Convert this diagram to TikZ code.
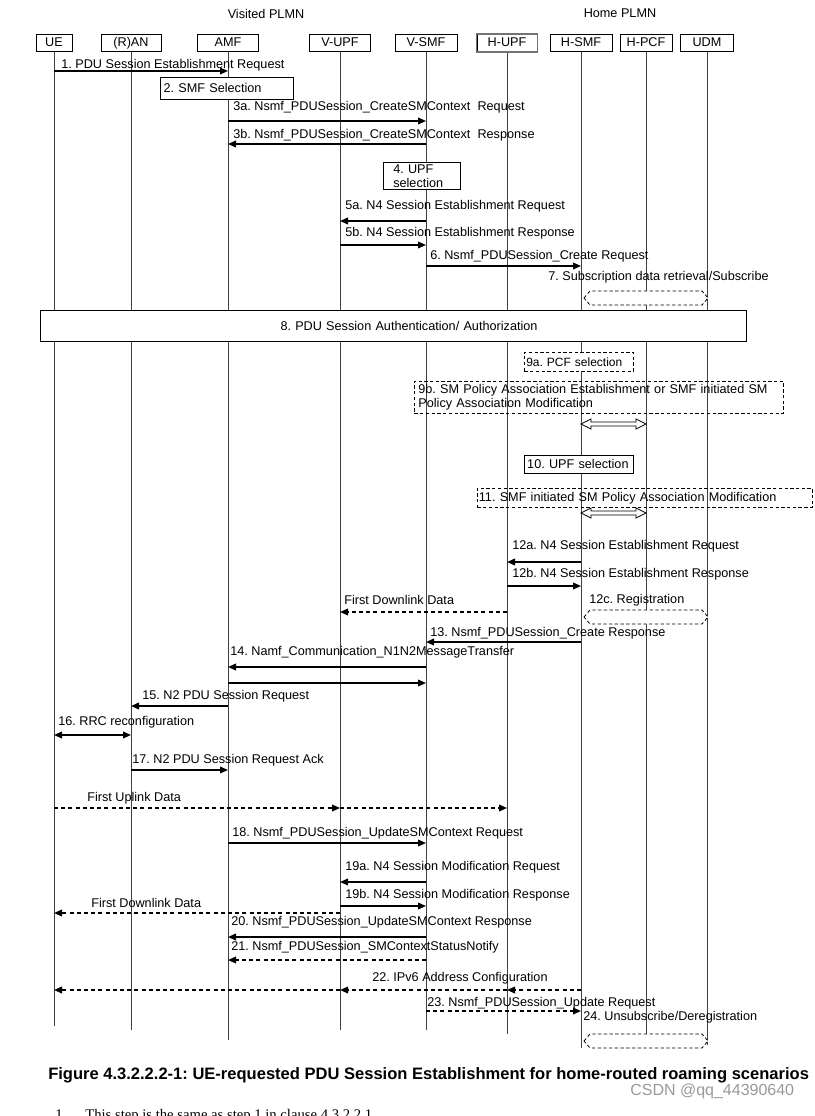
\documentclass[tikz,border=0pt]{standalone}
\usepackage{fontspec}
\setmainfont{Liberation Sans}
\newfontfamily\bodyserif{Liberation Serif}
\usetikzlibrary{arrows.meta}
\frenchspacing
\tikzset{
  nf/.style={draw, line width=0.6pt, fill=white, minimum height=12.75pt, inner sep=1pt,
    text height=7pt, text depth=2pt},
  life/.style={line width=0.55pt, black!75},
  msg/.style={line width=1.1pt, -{Triangle[length=6pt, width=5pt]}},
  dmsg/.style={msg, dash pattern=on 3pt off 2.4pt},
  dbl/.style={line width=1.1pt, {Triangle[length=6pt, width=5pt]}-{Triangle[length=6pt, width=5pt]}},
  act/.style={draw, line width=0.6pt, fill=white, align=left, inner xsep=2.4pt, inner ysep=1pt},
  dact/.style={act, dash pattern=on 2.5pt off 1.8pt},
  dhex/.style={draw, fill=white, line width=0.6pt, dash pattern=on 2.5pt off 1.8pt},
  hollow/.style={draw, fill=white, line width=0.6pt},
  lbl/.style={anchor=west, inner sep=0pt},
}
\newcommand{\hollowarrow}[1]{%
  \draw[hollow] (hsmf |- 0,#1) -- ++(10,-5) -- ++(0,3) -- ++(45,0) -- ++(0,-3) -- ++(10,5)
    -- ++(-10,5) -- ++(0,-3) -- ++(-45,0) -- ++(0,3) -- cycle;}
\newcommand{\dashhex}[1]{%
  \draw[dhex] (hsmf |- 0,#1) ++(3,7) -- ++(6,-7) -- ++(112,0) -- ++(6,7) -- ++(-6,7)
    -- ++(-112,0) -- cycle;}

\begin{document}
\begin{tikzpicture}[x=0.75pt, y=-0.75pt, font=\fontsize{9.5}{10.5}\selectfont]
\useasboundingbox (0,0) rectangle (814,1116);

% ── Network functions ───────────────────────────────────────
\node (vis) at (266,14) {Visited PLMN};
\node (home) at (620,13) {Home PLMN};
\foreach \n/\x/\w/\t in {ue/54/27/UE, ran/131/45/(R)AN, amf/228/45.75/AMF,
    vupf/340/45.75/V-UPF, vsmf/426/46.5/V-SMF, hupf/507/45/H-UPF,
    hsmf/581/46.5/H-SMF, hpcf/646/39/H-PCF, udm/707/39.75/UDM} {
  \node[nf, minimum width=\w pt] (\n) at (\x,43) {\t};
}
\foreach \n/\e in {ue/1026, ran/1030, amf/1040, vupf/1030, vsmf/1030,
    hupf/1034, hsmf/1048, hpcf/1047, udm/1045} {
  \draw[life] (\n) -- (\n |- 0,\e);
}
\draw[line width=1pt, black!55] (hupf.north west) rectangle (hupf.south east);

% ── Steps 1 -- 7 ────────────────────────────────────────────
\node[lbl] (t1) at (61,65) {1. PDU Session Establishment Request};
\draw[msg] (ue |- 0,71) -- (amf |- 0,71);
\node[act, anchor=north west, text width=95pt, minimum height=16.5pt] (s2) at (160,77) {2. SMF Selection};
\node[lbl] (t3a) at (233,107) {3a. Nsmf\_PDUSession\_CreateSMContext\ \ Request};
\draw[msg] (amf |- 0,121) -- (vsmf |- 0,121);
\node[lbl] (t3b) at (233,135) {3b. Nsmf\_PDUSession\_CreateSMContext\ \ Response};
\draw[msg] (vsmf |- 0,144) -- (amf |- 0,144);
\node[act, anchor=north west, text width=43pt, inner xsep=7.4pt, minimum height=20.25pt] (s4) at (383,162) {4. UPF\\selection};
\node[lbl] (t5a) at (345,206) {5a. N4 Session Establishment Request};
\draw[msg] (vsmf |- 0,221) -- (vupf |- 0,221);
\node[lbl] (t5b) at (345,233) {5b. N4 Session Establishment Response};
\draw[msg] (vupf |- 0,245) -- (vsmf |- 0,245);
\node[lbl] (t6) at (430,256) {6. Nsmf\_PDUSession\_Create Request};
\draw[msg] (vsmf |- 0,266) -- (hsmf |- 0,266);
\node[lbl] (t7) at (548,277) {7. Subscription data retrieval/Subscribe};
\dashhex{291}

% ── Steps 8 -- 11 ───────────────────────────────────────────
\node[act, align=center, text width=510pt, inner xsep=9.75pt, minimum height=23.25pt] (s8) at (393,325.5)
  {\hspace*{24pt}8. PDU Session Authentication/ Authorization};
\node[dact, anchor=north west, text width=79pt, inner xsep=1.4pt, minimum height=14.25pt,
  font=\fontsize{9}{10}\selectfont] (s9a) at (524,352) {9a. PCF selection};
\node[dact, fill=none, anchor=north west, text width=270.75pt, inner xsep=3pt, minimum height=24pt] (s9b) at (414,381)
  {9b. SM Policy Association Establishment or SMF initiated SM\\Policy Association Modification};
\hollowarrow{424}
\node[act, anchor=north west, text width=77.5pt, inner xsep=2.1pt, minimum height=13.5pt] (s10) at (524,455) {10. UPF selection};
\node[dact, fill=none, anchor=north west, text width=249pt, inner xsep=1.1pt, minimum height=14.25pt] (s11) at (477,488)
  {11. SMF initiated SM Policy Association Modification};
\hollowarrow{513}

% ── Steps 12 -- 17 ──────────────────────────────────────────
\node[lbl] (t12a) at (512,546) {12a. N4 Session Establishment Request};
\draw[msg] (hsmf |- 0,562) -- (hupf |- 0,562);
\node[lbl] (t12b) at (512,574) {12b. N4 Session Establishment Response};
\draw[msg] (hupf |- 0,586) -- (hsmf |- 0,586);
\node[lbl] (tdl1) at (344,600) {First Downlink Data};
\draw[dmsg] (hupf |- 0,612) -- (vupf |- 0,612);
\node[lbl] (t12c) at (589,600) {12c. Registration};
\dashhex{610}
\node[lbl] (t13) at (430,633) {13. Nsmf\_PDUSession\_Create Response};
\draw[msg] (hsmf |- 0,642) -- (vsmf |- 0,642);
\node[lbl] (t14) at (230,652) {14. Namf\_Communication\_N1N2MessageTransfer};
\draw[msg] (vsmf |- 0,667) -- (amf |- 0,667);
\draw[msg] (amf |- 0,683) -- (vsmf |- 0,683);
\node[lbl] (t15) at (142,696) {15. N2 PDU Session Request};
\draw[msg] (amf |- 0,706) -- (ran |- 0,706);
\node[lbl] (t16) at (58,722) {16. RRC reconfiguration};
\draw[dbl] (ue |- 0,735) -- (ran |- 0,735);
\node[lbl] (t17) at (132,760) {17. N2 PDU Session Request Ack};
\draw[msg] (ran |- 0,770) -- (amf |- 0,770);

% ── Steps 18 -- 24 ──────────────────────────────────────────
\node[lbl] (tul) at (87,798) {First Uplink Data};
\draw[dmsg] (ue |- 0,808) -- (vupf |- 0,808);
\draw[dmsg] (vupf |- 0,808) -- (hupf |- 0,808);
\node[lbl] (t18) at (232,833) {18. Nsmf\_PDUSession\_UpdateSMContext Request};
\draw[msg] (amf |- 0,843) -- (vsmf |- 0,843);
\node[lbl] (t19a) at (345,867) {19a. N4 Session Modification Request};
\draw[msg] (vsmf |- 0,882) -- (vupf |- 0,882);
\node[lbl] (t19b) at (345,895) {19b. N4 Session Modification Response};
\draw[msg] (vupf |- 0,906) -- (vsmf |- 0,906);
\node[lbl] (tdl2) at (91,903) {First Downlink Data};
\draw[dmsg] (vupf |- 0,913) -- (ue |- 0,913);
\node[lbl] (t20) at (231,922) {20. Nsmf\_PDUSession\_UpdateSMContext Response};
\draw[msg] (vsmf |- 0,937) -- (amf |- 0,937);
\node[lbl] (t21) at (231,947) {21. Nsmf\_PDUSession\_SMContextStatusNotify};
\draw[dmsg] (vsmf |- 0,960) -- (amf |- 0,960);
\node[lbl] (t22) at (372,978) {22. IPv6 Address Configuration};
\draw[dmsg] (hsmf |- 0,990) -- (hupf |- 0,990);
\draw[dmsg] (hupf |- 0,990) -- (vupf |- 0,990);
\draw[dmsg] (vupf |- 0,990) -- (ue |- 0,990);
\node[lbl] (t23) at (427,1003) {23. Nsmf\_PDUSession\_Update Request};
\draw[dmsg] (vsmf |- 0,1011) -- (hsmf |- 0,1011);
\node[lbl] (t24) at (583,1017) {24. Unsubscribe/Deregistration};
\dashhex{1034}

% ── Caption ─────────────────────────────────────────────────
\node[lbl, font=\fontsize{12.4}{14}\selectfont\bfseries] (cap) at (48,1075)
  {Figure 4.3.2.2.2-1: UE-requested PDU Session Establishment for home-routed roaming scenarios};
\node[lbl, font=\fontsize{12}{14}\selectfont, text=black!40] (wm) at (630,1091) {CSDN @qq\_44390640};
\node[anchor=base west, inner sep=0pt, font=\bodyserif\fontsize{11}{13}\selectfont] (note1) at (55,1119)
  {1.\hspace{1.3em}This step is the same as step 1 in clause 4.3.2.2.1.};

\end{tikzpicture}
\end{document}
